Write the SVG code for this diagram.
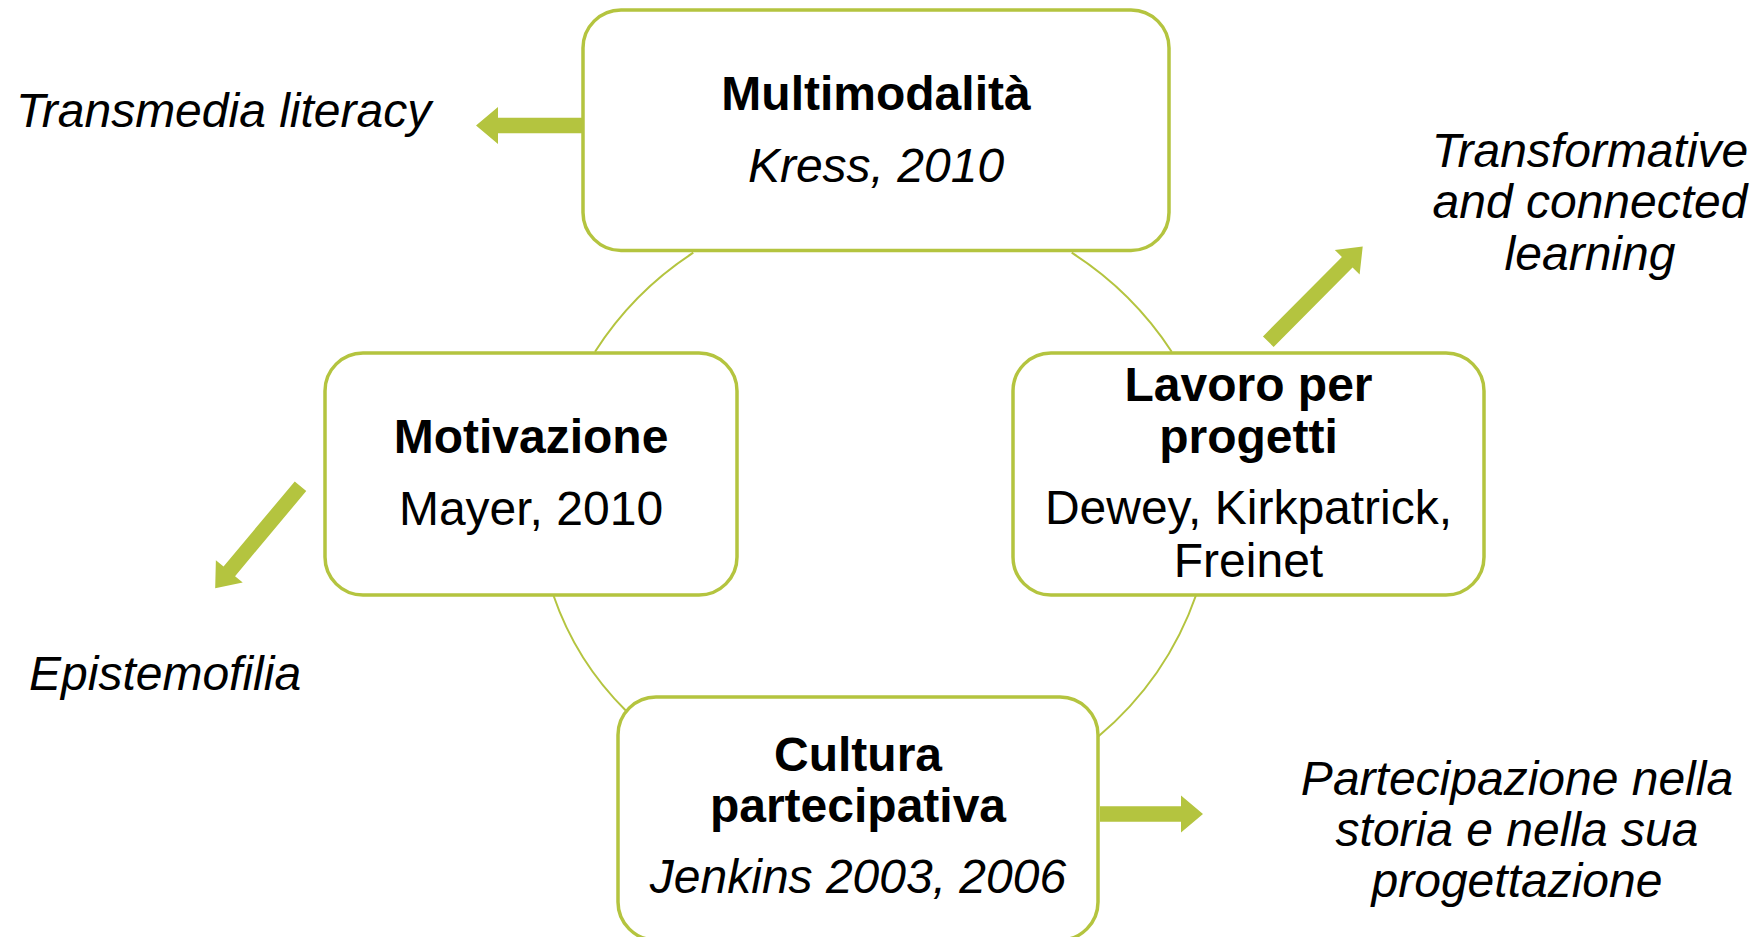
<svg xmlns="http://www.w3.org/2000/svg" width="1760" height="937" viewBox="0 0 1760 937">
<style>
.box{fill:#fff;stroke:#B4C43F;stroke-width:3.5}
.arc{fill:none;stroke:#B4C43F;stroke-width:2}
.arr{fill:#B4C43F;stroke:none}
text{font-family:"Liberation Sans",Arial,sans-serif;font-size:48px;fill:#000}
.c{text-anchor:middle}
.b{font-weight:bold}
.i{font-style:italic}
</style>
<rect width="1760" height="937" fill="#fff"/>
<g id="connectors">
<path class="arc" d="M693.3,252.7 Q633.5,291.6 595,351.7"/>
<path class="arc" d="M1071.7,252.7 Q1132.3,291.5 1171.7,351.7"/>
<path class="arc" d="M553.3,595 Q576.1,661.4 626,710.7"/>
<path class="arc" d="M1196.5,594 Q1166.9,679.1 1097.7,737"/>
<path class="arr" transform="translate(584,125.5) rotate(180)" d="M0,-7.75 H86 V-18.5 L108,0 L86,18.5 V7.75 H0 Z"/>
<path class="arr" transform="translate(1100,814) rotate(0)" d="M0,-7.75 H81 V-18.5 L103,0 L81,18.5 V7.75 H0 Z"/>
<path class="arr" transform="translate(1268.3,341.7) rotate(-45.2)" d="M0,-7.5 H112 V-17.5 L134,0 L112,17.5 V7.5 H0 Z"/>
<path class="arr" transform="translate(300.5,486.2) rotate(129.9)" d="M0,-7.5 H111 V-17.5 L133,0 L111,17.5 V7.5 H0 Z"/>
</g>
<g id="node-multimodalita">
<rect class="box" x="583" y="10" width="586" height="240.5" rx="38"/>
<text class="c b" x="876" y="109.5">Multimodalità</text>
<text class="c i" x="876" y="181.5">Kress, 2010</text>
</g>
<g id="node-motivazione">
<rect class="box" x="325" y="353" width="412" height="242" rx="38"/>
<text class="c b" x="531" y="453">Motivazione</text>
<text class="c" x="531" y="525">Mayer, 2010</text>
</g>
<g id="node-lavoro">
<rect class="box" x="1013" y="353" width="471" height="242" rx="38"/>
<text class="c b" x="1248.5" y="401">Lavoro per</text>
<text class="c b" x="1248.5" y="452.7">progetti</text>
<text class="c" x="1248.5" y="524.3">Dewey, Kirkpatrick,</text>
<text class="c" x="1248.5" y="576.7">Freinet</text>
</g>
<g id="node-cultura">
<rect class="box" x="618" y="697" width="480" height="243" rx="38"/>
<text class="c b" x="858" y="770.7">Cultura</text>
<text class="c b" x="858" y="821.7">partecipativa</text>
<text class="c i" x="858" y="893.3">Jenkins 2003, 2006</text>
</g>
<g id="label-transmedia">
<text class="i" x="16" y="126.7">Transmedia literacy</text>
</g>
<g id="label-transformative">
<text class="c i" x="1590" y="166.7">Transformative</text>
<text class="c i" x="1590" y="218.3">and connected</text>
<text class="c i" x="1590" y="270">learning</text>
</g>
<g id="label-epistemofilia">
<text class="i" x="29" y="690">Epistemofilia</text>
</g>
<g id="label-partecipazione">
<text class="c i" x="1517" y="795">Partecipazione nella</text>
<text class="c i" x="1517" y="846">storia e nella sua</text>
<text class="c i" x="1517" y="896.7">progettazione</text>
</g>
</svg>
